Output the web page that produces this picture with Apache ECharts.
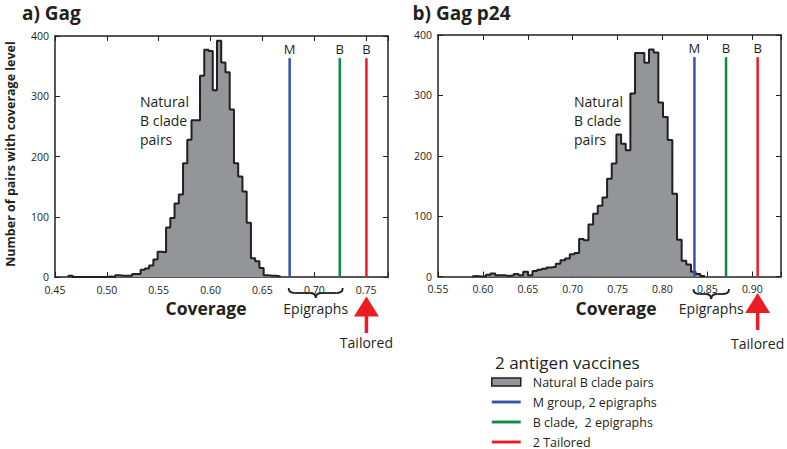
<!DOCTYPE html>
<html><head><meta charset="utf-8">
<script src="https://cdn.jsdelivr.net/npm/echarts@6/dist/echarts.min.js"></script>
<style>html,body{margin:0;padding:0;background:#fff}#c{width:787px;height:449px}</style>
</head><body><div id="c"></div>
<script>
// ---- data ----
const histName = 'Natural B clade pairs';
const leftBinStart = 0.4630;
const leftBinWidth = 0.00409;
const leftCounts = [2,0,0,0,0,0,0,0,0,1,0,3,2,2,2,5,5,12,14,19,29,42,41,
  82,98,122,137,189,228,260,260,334,377,375,310,392,356,340,278,189,167,142,90,31,26,15,3,2,2,1];
const rightBinStart = 0.5878;
const rightBinWidth = 0.00519;
const rightCounts = [1,0,0,3,5,2,2,1,2,4, 2,8,2,9,11,13,15,16,21,27,
  30,37,39,62,60,86,104,117,131,162, 187,235,220,209,303,370,370,354,376,371,
  288,264,226,137,61,26,20,8,4,1];
const markerNames = ['M group, 2 epigraphs', 'B clade,  2 epigraphs', '2 Tailored'];
const markerLetters = ['M', 'B', 'B'];
const leftMarkers = [0.6762, 0.7245, 0.7502];
const rightMarkers = [0.8356, 0.8708, 0.906];
const markerTop = 363;
const leftX = {min: 0.45, max: 0.771, interval: 0.05};
const rightX = {min: 0.55, max: 0.932, interval: 0.05};
const yRange = {min: 0, max: 400, interval: 100};
const panelTitles = ['a) Gag', 'b) Gag p24'];

// ---- styles ----
const FONT = "'Open Sans', 'Noto Sans', sans-serif";
const INK = '#231f20';
const markerColors = ['#3953a4', '#0f8b45', '#ec1c24'];
const histFill = '#939598';

function histPoints(start, width, counts) {
  const pts = [[start, 0]];
  counts.forEach((c, i) => pts.push([start + i * width, c]));
  pts.push([start + counts.length * width, 0]);
  return pts;
}
function tickFmt(v) {
  const r = v / 0.05;
  return Math.abs(r - Math.round(r)) < 1e-6 ? v.toFixed(2) : '';
}
function xAxes(grid, rng) {
  const base = {gridIndex: grid, type: 'value', min: rng.min, max: rng.max, interval: rng.interval,
    splitLine: {show: false},
    axisLine: {show: true, onZero: false, lineStyle: {color: INK, width: 1.5}},
    axisTick: {show: true, inside: true, length: 5, lineStyle: {color: INK, width: 1}}};
  return [
    Object.assign({}, base, {position: 'bottom',
      axisLabel: {formatter: tickFmt, margin: 7, fontSize: 10.5, lineHeight: 11, color: INK, fontFamily: FONT}}),
    Object.assign({}, base, {position: 'top', axisLabel: {show: false}})
  ];
}
function yAxes(grid) {
  const base = {gridIndex: grid, type: 'value', min: yRange.min, max: yRange.max, interval: yRange.interval,
    splitLine: {show: false},
    axisLine: {show: true, onZero: false, lineStyle: {color: INK, width: 1.5}},
    axisTick: {show: true, inside: true, length: 5, lineStyle: {color: INK, width: 1}}};
  return [
    Object.assign({}, base, {position: 'left',
      axisLabel: {margin: 6, fontSize: 10.5, lineHeight: 10, padding: [0, 0, 6, 0], color: INK, fontFamily: FONT, verticalAlign: 'middle'}}),
    Object.assign({}, base, {position: 'right', axisLabel: {show: false}})
  ];
}
function panelSeries(axisIdx, start, width, counts, markers) {
  const s = [{
    type: 'line', name: histName, xAxisIndex: axisIdx, yAxisIndex: axisIdx,
    data: histPoints(start, width, counts), step: 'end', symbol: 'none', silent: true,
    lineStyle: {color: INK, width: 2}, areaStyle: {color: histFill, opacity: 1},
    itemStyle: {color: histFill}, z: 2
  }];
  markers.forEach((x, k) => {
    s.push({
      type: 'line', name: markerNames[k], xAxisIndex: axisIdx, yAxisIndex: axisIdx,
      symbol: 'circle', symbolSize: 1, showSymbol: true, silent: true,
      lineStyle: {color: markerColors[k], width: 2.5}, itemStyle: {color: markerColors[k]}, z: 3,
      data: [[x, 0], {value: [x, markerTop], label: {show: true, position: 'top', distance: 2,
        formatter: markerLetters[k], fontSize: 13, color: INK, fontFamily: FONT}}]
    });
  });
  return s;
}

const chart = echarts.init(document.getElementById('c'), null, {renderer: 'svg'});
const option = {
  animation: false,
  backgroundColor: '#fff',
  grid: [
    {left: 55, top: 36, width: 333, height: 241},
    {left: 438, top: 35, width: 343, height: 241.5}
  ],
  xAxis: [].concat(xAxes(0, leftX), xAxes(1, rightX)),
  yAxis: [].concat(yAxes(0), yAxes(1)),
  legend: {
    orient: 'vertical', left: 491, top: 375, itemWidth: 29, itemHeight: 8, itemGap: 6,
    padding: 0, height: 80,
    selectedMode: false,
    textStyle: {fontSize: 12.5, color: INK, fontFamily: FONT, lineHeight: 14, padding: [0, 0, 0, 7]},
    data: [
      {name: histName, icon: 'rect', itemStyle: {color: histFill, borderColor: INK, borderWidth: 1.5}},
      {name: markerNames[0], icon: 'path://M0,0H30V3H0Z', itemStyle: {color: markerColors[0]}},
      {name: markerNames[1], icon: 'path://M0,0H30V3H0Z', itemStyle: {color: markerColors[1]}},
      {name: markerNames[2], icon: 'path://M0,0H30V3H0Z', itemStyle: {color: markerColors[2]}}
    ]
  },
  series: [].concat(
    panelSeries(0, leftBinStart, leftBinWidth, leftCounts, leftMarkers),
    panelSeries(2, rightBinStart, rightBinWidth, rightCounts, rightMarkers)
  )
};
chart.setOption(option);

function brace(x0, x1, y0, h) {
  const xc = (x0 + x1) / 2, ym = y0 + h / 2, yb = y0 + h, q = 6;
  const st = {stroke: INK, lineWidth: 1.8, fill: 'none'};
  return [
    {type: 'bezierCurve', silent: true, shape: {x1: x0, y1: y0, cpx1: x0, cpy1: ym, x2: x0 + q, y2: ym}, style: st},
    {type: 'line', silent: true, shape: {x1: x0 + q, y1: ym, x2: xc - q, y2: ym}, style: st},
    {type: 'bezierCurve', silent: true, shape: {x1: xc - q, y1: ym, cpx1: xc, cpy1: ym, x2: xc, y2: yb}, style: st},
    {type: 'bezierCurve', silent: true, shape: {x1: xc, y1: yb, cpx1: xc, cpy1: ym, x2: xc + q, y2: ym}, style: st},
    {type: 'line', silent: true, shape: {x1: xc + q, y1: ym, x2: x1 - q, y2: ym}, style: st},
    {type: 'bezierCurve', silent: true, shape: {x1: x1 - q, y1: ym, cpx1: x1, cpy1: ym, x2: x1, y2: y0}, style: st}
  ];
}
function txt(x, y, s, size, extraStyle, rotation) {
  const el = {type: 'text', x: x, y: y, silent: true,
    style: Object.assign({text: s, fontSize: size, fontFamily: FONT, fill: INK,
      align: 'center', verticalAlign: 'middle'}, extraStyle || {})};
  if (rotation) el.rotation = rotation;
  return el;
}
function panelGraphics(axisIdx, markers, braceY, arrowTop, stemEnd, tailY, covX) {
  const px = v => chart.convertToPixel({xAxisIndex: axisIdx}, v);
  const xb = px(markers[0]), xg = px(markers[1]), xr = px(markers[2]);
  return [].concat(brace(xb - 1, xg + 3, braceY, 10), [
    txt((xb + xg) / 2 + 1, 308, 'Epigraphs', 14),
    {type: 'polygon', silent: true, shape: {points: [[xr, arrowTop], [xr - 12.5, arrowTop + 20], [xr + 12.5, arrowTop + 20]]},
      style: {fill: markerColors[2]}},
    {type: 'rect', silent: true, shape: {x: xr - 1.75, y: arrowTop + 19, width: 3.5, height: stemEnd - arrowTop - 19},
      style: {fill: markerColors[2]}},
    txt(xr, tailY, 'Tailored', 14),
    txt(covX, 308, 'Coverage', 17.5, {fontWeight: 'bold'})
  ]);
}

const graphics = [].concat(
  [
    txt(22, 13, panelTitles[0], 19, {fontWeight: 'bold', align: 'left'}),
    txt(412.5, 13, panelTitles[1], 19, {fontWeight: 'bold', align: 'left'}),
    txt(10, 154, 'Number of pairs with coverage level', 12.5, {fontWeight: 'bold'}, Math.PI / 2),
    txt(140, 92, 'Natural\nB clade\npairs', 14, {align: 'left', verticalAlign: 'top', lineHeight: 19}),
    txt(574, 92, 'Natural\nB clade\npairs', 14, {align: 'left', verticalAlign: 'top', lineHeight: 19}),
    txt(495, 362, '2 antigen vaccines', 17, {align: 'left'})
  ],
  panelGraphics(0, leftMarkers, 288, 296.5, 333, 342, 206),
  panelGraphics(2, rightMarkers, 289, 293, 330, 343, 616)
);
chart.setOption({graphic: graphics});
</script></body></html>
